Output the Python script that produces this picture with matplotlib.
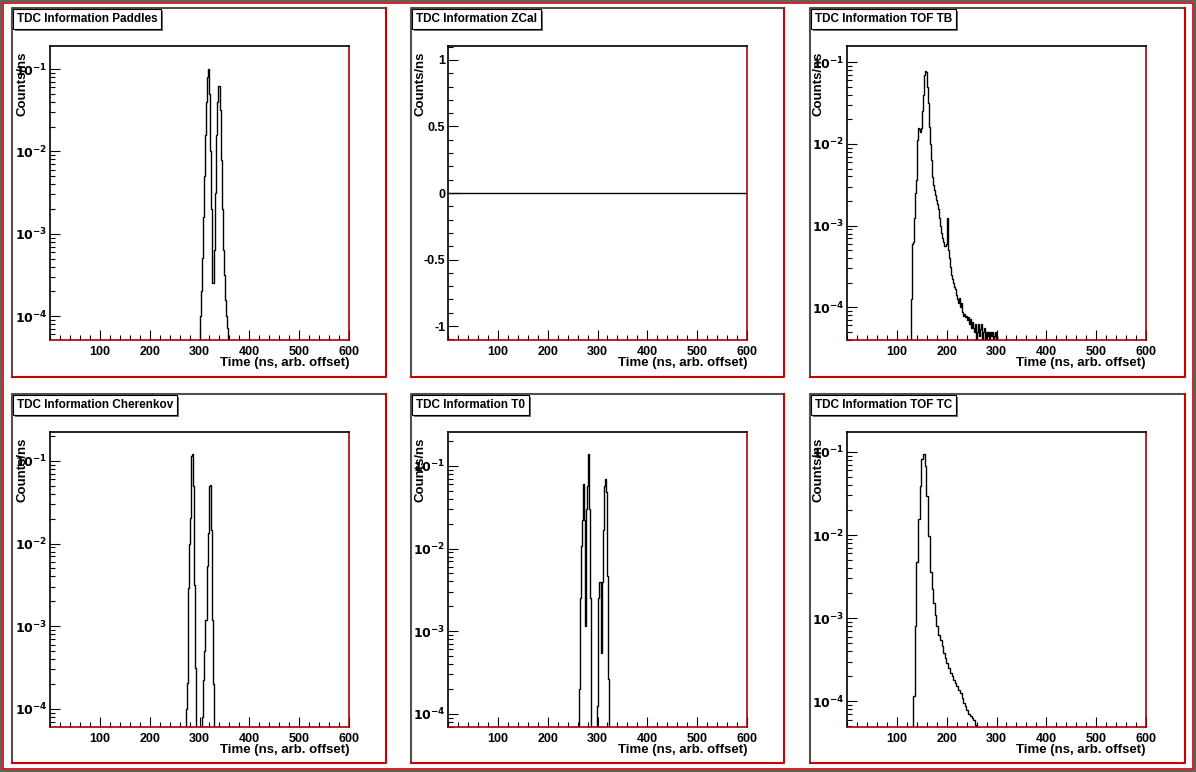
import numpy as np
import matplotlib
matplotlib.use("Agg")
import matplotlib.pyplot as plt
from matplotlib.patches import Rectangle
from matplotlib.ticker import LogLocator, NullFormatter, MultipleLocator, FixedLocator

# ---------------- data (bin left edges in ns, log10 counts/ns) ----------------
paddles_x = [300,302,304,306,308,310,312,314,316,318,320,322,324,326,328,330,332,334,336,338,340,
             342,344,346,348,350,352,354,356,358,360]
paddles_v = [-4.3,-4.0,-3.7,-3.3,-2.8,-2.3,-1.8,-1.4,-1.1,-1.0,-1.3,-2.0,-2.7,-3.6,-3.6,-3.2,-2.5,
             -1.8,-1.4,-1.2,-1.2,-1.5,-2.1,-2.7,-3.2,-3.5,-3.8,-4.0,-4.15,-4.3,-4.4]
paddles_end = 362

cher_x = [271,272,274,276,278,280,283,285,287,289,291,293,303,305,308,310,312,315,317,319,321,323,325,327,329]
cher_v = [-4.3,-4.0,-3.69,-2.54,-2.0,-1.69,-0.94,-0.92,-1.3,-2.5,-3.5,-4.5,-4.5,-4.1,-3.65,-3.3,-2.92,
          -2.27,-1.87,-1.3,-1.29,-1.83,-2.92,-3.7,-4.5]
cher_end = 331

t0_x = [261,263,265,267,269,271,272,275,277,279,281,283,285,286,297,299,301,303,305,308,310,312,314,316,318,320,322,324]
t0_v = [-4.3,-3.7,-2.6,-1.97,-1.65,-1.22,-1.65,-2.94,-1.52,-1.24,-0.86,-1.52,-2.6,-4.5,-4.5,-3.9,-2.6,
        -2.4,-2.4,-3.26,-2.4,-1.77,-1.24,-1.16,-1.32,-2.33,-3.58,-4.5]
t0_end = 326

tb_x = list(range(128, 304, 2))
tb_v = [-3.9,-3.23,-3.2,-2.9,-2.6,-2.44,-1.95,-1.8,-1.82,-1.85,-1.8,-1.6,-1.4,-1.15,-1.1,-1.12,-1.3,
        -1.5,-1.79,-2.0,-2.2,-2.4,-2.5,-2.56,-2.62,-2.68,-2.74,-2.8,-2.9,-3.0,-3.09,-3.15,-3.2,-3.25,
        -3.25,-3.22,-2.9,-3.3,-3.4,-3.5,-3.6,-3.65,-3.7,-3.75,-3.78,-3.85,-3.9,-3.95,-3.88,-4.0,-3.95,
        -4.06,-4.1,-4.08,-4.12,-4.1,-4.15,-4.12,-4.2,-4.14,-4.25,-4.18,-4.25,-4.3,-4.2,-4.4,-4.3,-4.2,
        -4.35,-4.26,-4.2,-4.4,-4.3,-4.25,-4.4,-4.3,-4.35,-4.3,-4.4,-4.3,-4.35,-4.3,-4.4,-4.35,-4.3,-4.4,-4.35,-4.5]
tb_end = 304

tc_x = [133,136,139,143,146,149,153,156,159,163,166,170,173,176,179,183,186,190,193,196,199,203,206,
        210,213,216,219,223,226,230,233,236,239,243,246,250,253,256]
tc_v = [-3.94,-3.1,-2.33,-1.81,-1.41,-1.09,-1.03,-1.17,-1.53,-2.01,-2.45,-2.65,-2.82,-2.96,-3.1,-3.2,
        -3.26,-3.34,-3.42,-3.48,-3.54,-3.6,-3.66,-3.7,-3.74,-3.78,-3.82,-3.86,-3.9,-3.96,-4.02,-4.06,
        -4.1,-4.15,-4.18,-4.2,-4.22,-4.28]
tc_end = 259

zcal_x = [0, 600]
zcal_v = [0, 0]

titles = ["TDC Information Paddles", "TDC Information ZCal", "TDC Information TOF TB",
          "TDC Information Cherenkov", "TDC Information T0", "TDC Information TOF TC"]
ylims = [(-4.29, -0.72), None, (-4.40, -0.80), (-4.22, -0.65), (-4.16, -0.59), (-4.31, -0.76)]
hists = [(paddles_x, paddles_v, paddles_end), None, (tb_x, tb_v, tb_end),
         (cher_x, cher_v, cher_end), (t0_x, t0_v, t0_end), (tc_x, tc_v, tc_end)]
xlabel = "Time (ns, arb. offset)"
ylabel = "Counts/ns"

# ---------------- layout ----------------
W, H = 1196, 772
fig = plt.figure(figsize=(W/100, H/100), dpi=100)
fig.patch.set_facecolor("white")
FONT = "Liberation Sans"

def fx(x): return x / W
def fy(y): return 1 - y / H

fig.add_artist(Rectangle((0, 0), 1, 1, transform=fig.transFigure, fill=False,
                         edgecolor="#606060", lw=3))
fig.add_artist(Rectangle((fx(3), fy(769)), fx(1190), 766/H, transform=fig.transFigure, fill=False,
                         edgecolor="#cc0000", lw=1.2))

pad_cols = [(12, 386), (411, 784), (810, 1185)]
pad_rows = [(8, 377), (394, 763)]
ax_cols = [(50, 349), (448, 747), (847, 1146)]
ax_rows = [(46, 340), (432, 727)]

for i in range(6):
    r, c = divmod(i, 3)
    px0, px1 = pad_cols[c]; py0, py1 = pad_rows[r]
    fig.add_artist(plt.Line2D([fx(px0), fx(px0), fx(px1)], [fy(py1), fy(py0), fy(py0)],
                              transform=fig.transFigure, color="#505050", lw=1.5))
    fig.add_artist(plt.Line2D([fx(px0), fx(px1), fx(px1)], [fy(py1), fy(py1), fy(py0)],
                              transform=fig.transFigure, color="#cc0000", lw=1.5))
    ax0, ax1 = ax_cols[c]; ay0, ay1 = ax_rows[r]
    ax = fig.add_axes([fx(ax0), fy(ay1), (ax1 - ax0)/W, (ay1 - ay0)/H])
    for s in ["left", "top"]:
        ax.spines[s].set_color("black")
    for s in ["right", "bottom"]:
        ax.spines[s].set_color("#aa0000")
    for s in ax.spines.values():
        s.set_linewidth(1.2)
    ax.set_xlim(0, 600)
    ax.xaxis.set_major_locator(FixedLocator([100, 200, 300, 400, 500, 600]))
    ax.xaxis.set_minor_locator(MultipleLocator(20))
    ax.tick_params(axis="x", which="major", direction="in", length=7, width=0.8, pad=4)
    ax.tick_params(axis="x", which="minor", direction="in", length=3.5, width=0.8)
    ax.tick_params(axis="y", which="major", direction="in", length=7, width=0.8, pad=2)
    ax.tick_params(axis="y", which="minor", direction="in", length=3.5, width=0.8)
    if hists[i] is None:
        ax.plot(zcal_x, zcal_v, color="black", lw=1)
        ax.set_ylim(-1.105, 1.105)
        ax.set_yticks([-1, -0.5, 0, 0.5, 1])
        ax.set_yticklabels(["-1", "-0.5", "0", "0.5", "1"])
        ax.yaxis.set_minor_locator(MultipleLocator(0.1))
    else:
        xs, vs, xe = hists[i]
        edges = list(xs) + [xe]
        lo, hi = ylims[i]
        vals = 10.0 ** np.array(vs)
        ax.set_yscale("log")
        ax.stairs(vals, edges, baseline=10**(lo - 0.5), color="black", lw=1)
        ax.set_ylim(10**lo, 10**hi)
        ax.yaxis.set_major_locator(FixedLocator([1e-4, 1e-3, 1e-2, 1e-1]))
        ax.set_yticklabels([r"$\mathbf{10}^{\mathbf{-4}}$", r"$\mathbf{10}^{\mathbf{-3}}$",
                            r"$\mathbf{10}^{\mathbf{-2}}$", r"$\mathbf{10}^{\mathbf{-1}}$"])
        ax.yaxis.set_minor_locator(LogLocator(base=10, subs=np.arange(2, 10)))
        ax.yaxis.set_minor_formatter(NullFormatter())
    for lab in ax.get_xticklabels() + ax.get_yticklabels():
        lab.set_fontfamily(FONT); lab.set_fontweight("bold"); lab.set_fontsize(9)
    fig.text(fx(ax1), fy(ay1 + 17), xlabel, ha="right", va="top", fontsize=9.5,
             fontfamily=FONT, fontweight="bold")
    fig.text(fx(ax0 - 34), fy(ay0 + 6), ylabel, ha="left", va="top", rotation=90,
             fontsize=9.5, fontfamily=FONT, fontweight="bold")
    t = fig.text(fx(px0 + 5), fy(py0 + 11), titles[i], ha="left", va="center", fontsize=8.5,
                 fontfamily=FONT, fontweight="bold",
                 bbox=dict(boxstyle="square,pad=0.3", facecolor="white", edgecolor="black", lw=0.8))
    t.set_zorder(5)
    fig.text(fx(px0 + 7), fy(py0 + 13), titles[i], ha="left", va="center", fontsize=8.5,
             fontfamily=FONT, fontweight="bold", color="#00000000", zorder=4,
             bbox=dict(boxstyle="square,pad=0.3", facecolor="#707070", edgecolor="none"))

fig.savefig("out.png", dpi=100)
